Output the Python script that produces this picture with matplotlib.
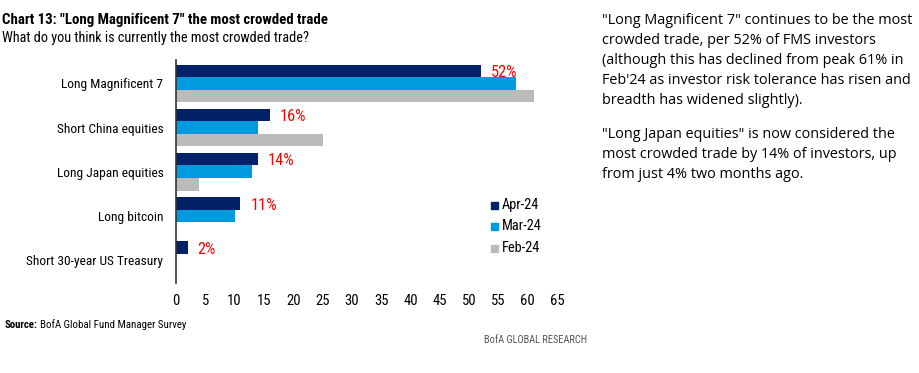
import matplotlib
matplotlib.use("Agg")
import matplotlib.pyplot as plt
from matplotlib.patches import Rectangle
from matplotlib import font_manager as fm
import numpy as np

categories = ["Long Magnificent 7", "Short China equities", "Long Japan equities",
              "Long bitcoin", "Short 30-year US Treasury"]
series_names = ["Apr-24", "Mar-24", "Feb-24"]
apr = [52, 16, 14, 11, 2]
mar = [58, 14, 13, 10, 0]
feb = [61, 25, 4, 0, 0]
labels = ["52%", "16%", "14%", "11%", "2%"]
xticks = list(range(0, 70, 5))

colors = ["#012169", "#009ADE", "#BBBBBB"]

# pick a condensed face if one is installed
COND_STRETCH = {"condensed", "semi-condensed", "extra-condensed", "ultra-condensed",
                75, 87, 62, 50}
cond_family, cond_stretch = "Roboto", "normal"
pref = ["Roboto Condensed", "Liberation Sans Narrow", "Open Sans Condensed",
        "Noto Sans Condensed", "DejaVu Sans", "Noto Sans", "Open Sans", "Roboto"]
found = {}
for f in fm.fontManager.ttflist:
    if f.stretch in COND_STRETCH or "Narrow" in f.name or "Condensed" in f.name:
        found.setdefault(f.name, f.stretch)
for p in pref:
    if p in found:
        cond_family, cond_stretch = p, found[p]
        break
COND = dict(family=[cond_family, "DejaVu Sans"], fontstretch=cond_stretch)
BODY = dict(family=["Open Sans", "DejaVu Sans"])

fig = plt.figure(figsize=(9.2, 3.73), dpi=100)
renderer = fig.canvas.get_renderer()


def fit_size(s, target_px, base=10, weight="normal", props=COND):
    t = fig.text(0, 0, s, fontsize=base, fontweight=weight, **props)
    w = t.get_window_extent(renderer).width
    t.remove()
    return base * target_px / w


ax = fig.add_axes([176/920, 1-283/373, (557-176)/920, (283-60)/373])

y = np.arange(len(categories))
h = 0.285
for i, (vals, c) in enumerate(zip([apr, mar, feb], colors)):
    ax.barh(y + (i - 1) * h, vals, height=h, color=c, label=series_names[i])

lab_fs = fit_size("52%", 26.5)
for yi, v, t in zip(y, apr, labels):
    ax.text(v + 1.7, yi - h + 0.04, t, color="#FF0000", fontsize=lab_fs,
            va="center", ha="left", **COND)

tick_fs = min(fit_size("65", 16), 10.5)
cat_fs = fit_size("Short 30-year US Treasury", 136)
ax.set_xlim(0, 65)
ax.set_ylim(4.52, -0.53)
ax.set_xticks(xticks)
ax.set_xticklabels([str(t) for t in xticks], fontsize=tick_fs, **COND)
ax.set_yticks(y)
ax.set_yticklabels(categories, fontsize=cat_fs, **COND)
ax.tick_params(axis="y", length=0, pad=9)
ax.tick_params(axis="x", length=0, pad=8)
for s in ["top", "right", "bottom"]:
    ax.spines[s].set_visible(False)
ax.spines["left"].set_color("#333333")
ax.spines["left"].set_linewidth(1.2)

# legend
leg_fs = fit_size("Mar-24", 40)
leg_y = [205, 226, 248]
for name, c, ly in zip(series_names, colors, leg_y):
    fig.patches.append(Rectangle((491/920, 1-(ly+4)/373), 7/920, 7/373,
                                 transform=fig.transFigure, color=c))
    fig.text(502/920, 1-ly/373, name, fontsize=leg_fs, va="center", ha="left", **COND)

# titles
title = 'Chart 13: "Long Magnificent 7" the most crowded trade'
subtitle = "What do you think is currently the most crowded trade?"
fig.text(2/920, 1-20/373, title, fontsize=fit_size(title, 328, weight="bold"),
         fontweight="bold", va="center", ha="left", **COND)
fig.text(2/920, 1-38/373, subtitle, fontsize=fit_size(subtitle, 306),
         va="center", ha="left", **COND)

# footer
src = "BofA Global Fund Manager Survey"
foot_fs = fit_size("Source: " + src, 180)
t1 = fig.text(5/920, 1-325/373, "Source:", fontsize=foot_fs, fontweight="bold",
              va="center", ha="left", **COND)
w1 = t1.get_window_extent(renderer).width
fig.text((5 + w1 + 2)/920, 1-325/373, src, fontsize=foot_fs,
         va="center", ha="left", **COND)
fig.text(587/920, 1-340/373, "BofA GLOBAL RESEARCH",
         fontsize=fit_size("BofA GLOBAL RESEARCH", 104),
         color="#555555", va="center", ha="right", **COND)

# commentary
para1 = ['"Long Magnificent 7" continues to be the most',
         'crowded trade, per 52% of FMS investors',
         '(although this has declined from peak 61% in',
         "Feb'24 as investor risk tolerance has risen and",
         'breadth has widened slightly).']
para2 = ['"Long Japan equities" is now considered the',
         'most crowded trade by 14% of investors, up',
         'from just 4% two months ago.']
body_fs = fit_size(para1[0], 310, props=BODY)
for k, line in enumerate(para1):
    fig.text(602/920, 1-(21+20*k)/373, line, fontsize=body_fs,
             va="center", ha="left", **BODY)
for k, line in enumerate(para2):
    fig.text(602/920, 1-(134+20*k)/373, line, fontsize=body_fs,
             va="center", ha="left", **BODY)

fig.savefig("out.png", dpi=100, facecolor="white")
